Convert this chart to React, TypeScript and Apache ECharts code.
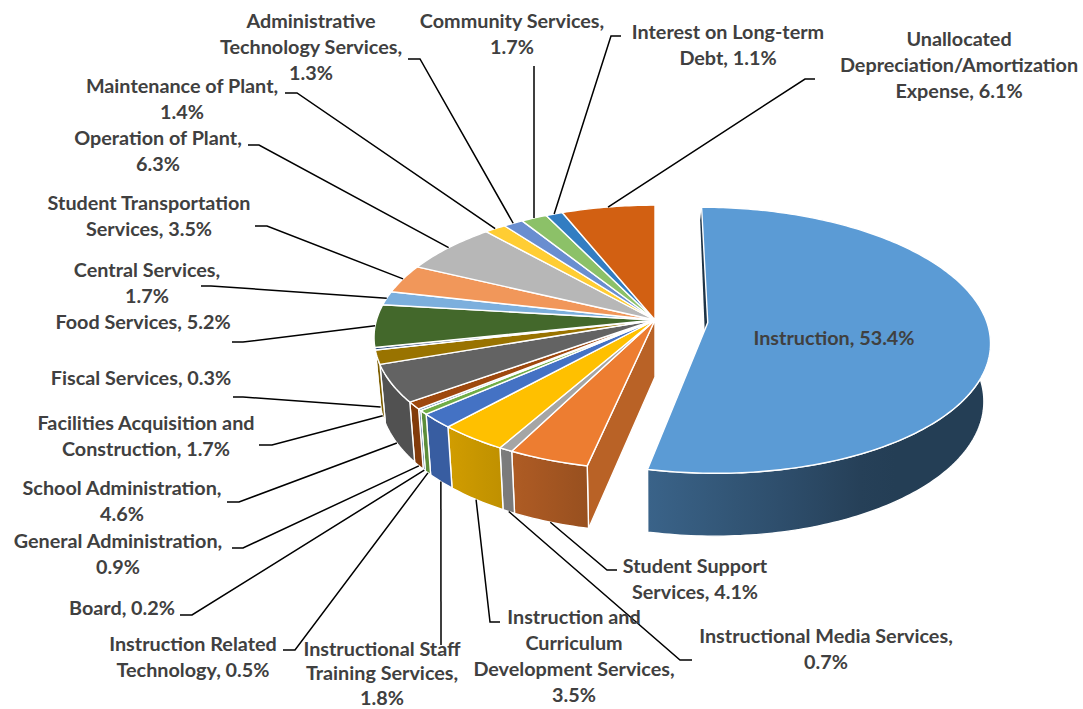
import React, { useEffect, useRef } from "react";
import * as echarts from "echarts";

// Expense categories, clockwise from twelve o'clock; "\n" marks a label's line break.
const categories = [
  "Instruction",
  "Student Support\nServices",
  "Instructional Media Services",
  "Instruction and\nCurriculum\nDevelopment Services",
  "Instructional Staff\nTraining Services",
  "Instruction Related\nTechnology",
  "Board",
  "General Administration",
  "School Administration",
  "Facilities Acquisition and\nConstruction",
  "Fiscal Services",
  "Food Services",
  "Central Services",
  "Student Transportation\nServices",
  "Operation of Plant",
  "Maintenance of Plant",
  "Administrative\nTechnology Services",
  "Community Services",
  "Interest on Long-term\nDebt",
  "Unallocated\nDepreciation/Amortization\nExpense",
];
const shares = [
  53.4, 4.1, 0.7, 3.5, 1.8, 0.5, 0.2, 0.9, 4.6, 1.7, 0.3, 5.2, 1.7, 3.5, 6.3, 1.4, 1.3, 1.7, 1.1, 6.1,
];
const colors = [
  "#5B9BD5", "#ED7D31", "#A5A5A5", "#FFC000", "#4472C4", "#70AD47", "#255E91", "#9E480E", "#636363", "#997300",
  "#264478", "#43682B", "#7CAFDD", "#F1975A", "#B7B7B7", "#FFCD33", "#698ED0", "#8CC168", "#327DC2", "#D26012",
];
// Value sits on its own line for these labels.
const valueOnNewLine = [
  false, false, true, true, true, false, false, true, true, false,
  false, false, true, false, true, true, true, true, false, false,
];

// Label placement: centre of the text block, then the leader's stub and elbow, and which rim it lands on.
type Place = { x: number; y: number; stub?: number[]; elbow?: number[]; rim?: "top" | "lower"; leading?: number };
const labelPlaces: Place[] = [
  { x: 834, y: 337 },
  { x: 695, y: 578, stub: [617, 570], elbow: [607, 570], rim: "lower" },
  { x: 826, y: 648, stub: [692, 660], elbow: [680, 660], rim: "lower" },
  { x: 574, y: 655, stub: [500, 622], elbow: [490, 622], rim: "lower" },
  { x: 382, y: 672, elbow: [441, 645], rim: "lower", leading: 24.5 },
  { x: 193, y: 656, stub: [283, 650], elbow: [295, 650], rim: "lower" },
  { x: 122, y: 607, stub: [180, 615], elbow: [192, 615], rim: "lower" },
  { x: 118, y: 553, stub: [232, 548], elbow: [243, 548], rim: "lower" },
  { x: 122, y: 500, stub: [227, 502], elbow: [239, 502], rim: "lower" },
  { x: 146, y: 435, stub: [259, 445], elbow: [272, 445], rim: "lower" },
  { x: 141, y: 377, stub: [233, 397], elbow: [243, 397], rim: "lower" },
  { x: 143, y: 321, stub: [232, 342], elbow: [243, 342], rim: "top" },
  { x: 147, y: 282, stub: [201, 286], elbow: [211, 286], rim: "top" },
  { x: 149, y: 215, stub: [255, 226], elbow: [267, 226], rim: "top" },
  { x: 158, y: 150, stub: [248, 145], elbow: [259, 145], rim: "top" },
  { x: 182, y: 98, stub: [285, 93], elbow: [297, 93], rim: "top" },
  { x: 311, y: 46, stub: [408, 59], elbow: [420, 59], rim: "top" },
  { x: 512, y: 33, elbow: [534, 66], rim: "top" },
  { x: 728, y: 44, stub: [621, 36], elbow: [611, 36], rim: "top" },
  { x: 959, y: 64, stub: [815, 79], elbow: [805, 79], rim: "top" },
];

// Perspective projection of the pie's two discs.
const CENTER_X = 655;
const PERSPECTIVE = 0.132;
const TOP_DISC = { r: 278.5, rh: 130, cy: 320 };
const LOWER_DISC = { r: 273, rh: 135, cy: 377 };
const EXPLODE = 0.19;
// Outer walls are only seen between these angles; the rest lies behind the top face.
const WALL_FROM = 70;
const WALL_TO = 258;

const total = shares.reduce((a, b) => a + b, 0);
const startAngles = shares.map((_, i) => (shares.slice(0, i).reduce((a, b) => a + b, 0) / total) * 360);
const endAngle = (i: number) => startAngles[i] + (shares[i] / total) * 360;
const rad = (d: number) => (d * Math.PI) / 180;

function project(disc: typeof TOP_DISC, angle: number, sliceIndex: number, radius = 1) {
  let u = radius * Math.sin(rad(angle));
  let v = -radius * Math.cos(rad(angle));
  if (sliceIndex === 0) {
    const mid = (startAngles[0] + endAngle(0)) / 2;
    u += EXPLODE * Math.sin(rad(mid));
    v += -EXPLODE * Math.cos(rad(mid));
  }
  const d = 1 - PERSPECTIVE * v;
  return [CENTER_X + (disc.r * u) / d, disc.cy + (disc.rh * v) / d];
}

function arc(disc: typeof TOP_DISC, from: number, to: number, sliceIndex: number) {
  const n = Math.max(2, Math.ceil(Math.abs(to - from)));
  const pts: number[][] = [];
  for (let k = 0; k <= n; k++) pts.push(project(disc, from + ((to - from) * k) / n, sliceIndex));
  return pts;
}

function shadeColor(hex: string, f: number) {
  const n = parseInt(hex.slice(1), 16);
  const ch = (s: number) => Math.round(((n >> s) & 255) * f);
  return `rgb(${ch(16)},${ch(8)},${ch(0)})`;
}

// Brightness of the outer wall as it turns from the right side round to the left.
const wallShades = [
  [90, 0.4], [150, 0.4], [192, 0.64], [207, 0.74], [222, 0.82], [270, 0.82],
];
function wallShade(angle: number) {
  for (let k = 1; k < wallShades.length; k++) {
    const [a0, s0] = wallShades[k - 1];
    const [a1, s1] = wallShades[k];
    if (angle <= a1) return s0 + ((s1 - s0) * Math.max(0, angle - a0)) / (a1 - a0);
  }
  return wallShades[wallShades.length - 1][1];
}

function wallFill(i: number, from: number, to: number) {
  const a0 = Math.max(from, 97);
  const a1 = Math.min(to, 263);
  const steps = 12;
  const samples: number[][] = [];
  for (let k = 0; k <= steps; k++) {
    const a = a0 + ((a1 - a0) * k) / steps;
    samples.push([project(TOP_DISC, a, i)[0], wallShade(a)]);
  }
  samples.sort((p, q) => p[0] - q[0]);
  const xMin = samples[0][0];
  const xMax = samples[samples.length - 1][0];
  const span = Math.max(xMax - xMin, 1);
  return new echarts.graphic.LinearGradient(
    xMin, 0, xMax, 0,
    samples.map(([x, s]) => ({ offset: (x - xMin) / span, color: shadeColor(colors[i], s) })),
    true,
  );
}

const EDGE = { stroke: "#fff", lineWidth: 1.4, lineJoin: "round" as const };

function renderWalls(params: any) {
  const i = params.dataIndex;
  const from = startAngles[i];
  const to = endAngle(i);
  const children: any[] = [];
  if (i === 0) {
    // Thin dark sliver of the cut face showing beside the detached slice.
    const apex = project(TOP_DISC, from, 0, 0);
    const back = project(TOP_DISC, from, 0);
    const lowApex = project(LOWER_DISC, from, 0, 0);
    children.push({
      type: "polygon",
      shape: { points: [apex, back, [back[0] - 1.4, back[1] + 13], lowApex] },
      style: { fill: shadeColor(colors[0], 0.33) },
    });
  }
  if (i === 1) {
    // Cut face of the remaining pie, facing the detached slice.
    const pts = [
      project(TOP_DISC, from, 1, 0),
      project(TOP_DISC, from, 1),
      project(LOWER_DISC, from, 1),
      project(LOWER_DISC, from, 1, 0),
    ];
    children.push({
      type: "polygon",
      shape: { points: pts },
      style: { fill: shadeColor(colors[1], 0.78), ...EDGE },
    });
  }
  const a0 = Math.max(from, WALL_FROM);
  const a1 = Math.min(to, WALL_TO);
  if (a1 > a0) {
    const pts = [...arc(TOP_DISC, a0, a1, i), ...arc(LOWER_DISC, a1, a0, i)];
    children.push({
      type: "polygon",
      shape: { points: pts },
      style: { fill: wallFill(i, a0, a1), ...EDGE },
    });
  }
  return { type: "group", children };
}

function renderTops(params: any, api: any) {
  const i = params.dataIndex;
  const from = startAngles[i];
  const to = from + (api.value(0) / total) * 360;
  const pts = [project(TOP_DISC, from, i, 0), ...arc(TOP_DISC, from, to, i)];
  return {
    type: "polygon",
    shape: { points: pts },
    style: { fill: colors[i], ...EDGE },
  };
}

function renderLabels(params: any, api: any) {
  const i = params.dataIndex;
  const place = labelPlaces[i];
  const text = `${categories[i]},${valueOnNewLine[i] ? "\n" : " "}${api.value(0).toFixed(1)}%`;
  const children: any[] = [];
  if (place.rim) {
    const mid = (startAngles[i] + endAngle(i)) / 2;
    const end = project(place.rim === "top" ? TOP_DISC : LOWER_DISC, mid, i);
    const points = [...(place.stub ? [place.stub] : []), place.elbow as number[], end];
    children.push({
      type: "polyline",
      shape: { points },
      style: { stroke: "#000", lineWidth: 1.5, fill: "none" },
    });
  }
  children.push({
    type: "text",
    x: place.x,
    y: place.y,
    style: {
      text,
      fill: "#404040",
      font: "700 19.8px Lato",
      lineHeight: place.leading ?? 26,
      align: "center",
      verticalAlign: "middle",
    },
  });
  return { type: "group", children };
}

export default function App() {
  const ref = useRef<HTMLDivElement>(null);
  useEffect(() => {
    const chart = echarts.init(ref.current!, null, { renderer: "svg" });
    const data = shares.map((value, i) => ({ name: categories[i], value: [value] }));
    const base = { type: "custom", coordinateSystem: "none", silent: true, data, animation: false };
    chart.setOption({
      animation: false,
      backgroundColor: "#fff",
      series: [
        { ...base, name: "walls", z: 1, renderItem: renderWalls },
        { ...base, name: "tops", z: 2, renderItem: renderTops },
        { ...base, name: "labels", z: 3, renderItem: renderLabels },
      ],
    });
    return () => chart.dispose();
  }, []);
  return (
    <div
      ref={ref}
      style={{ position: "fixed", left: 0, top: 0, width: 1083, height: 709, fontVariantLigatures: "none" }}
    />
  );
}
